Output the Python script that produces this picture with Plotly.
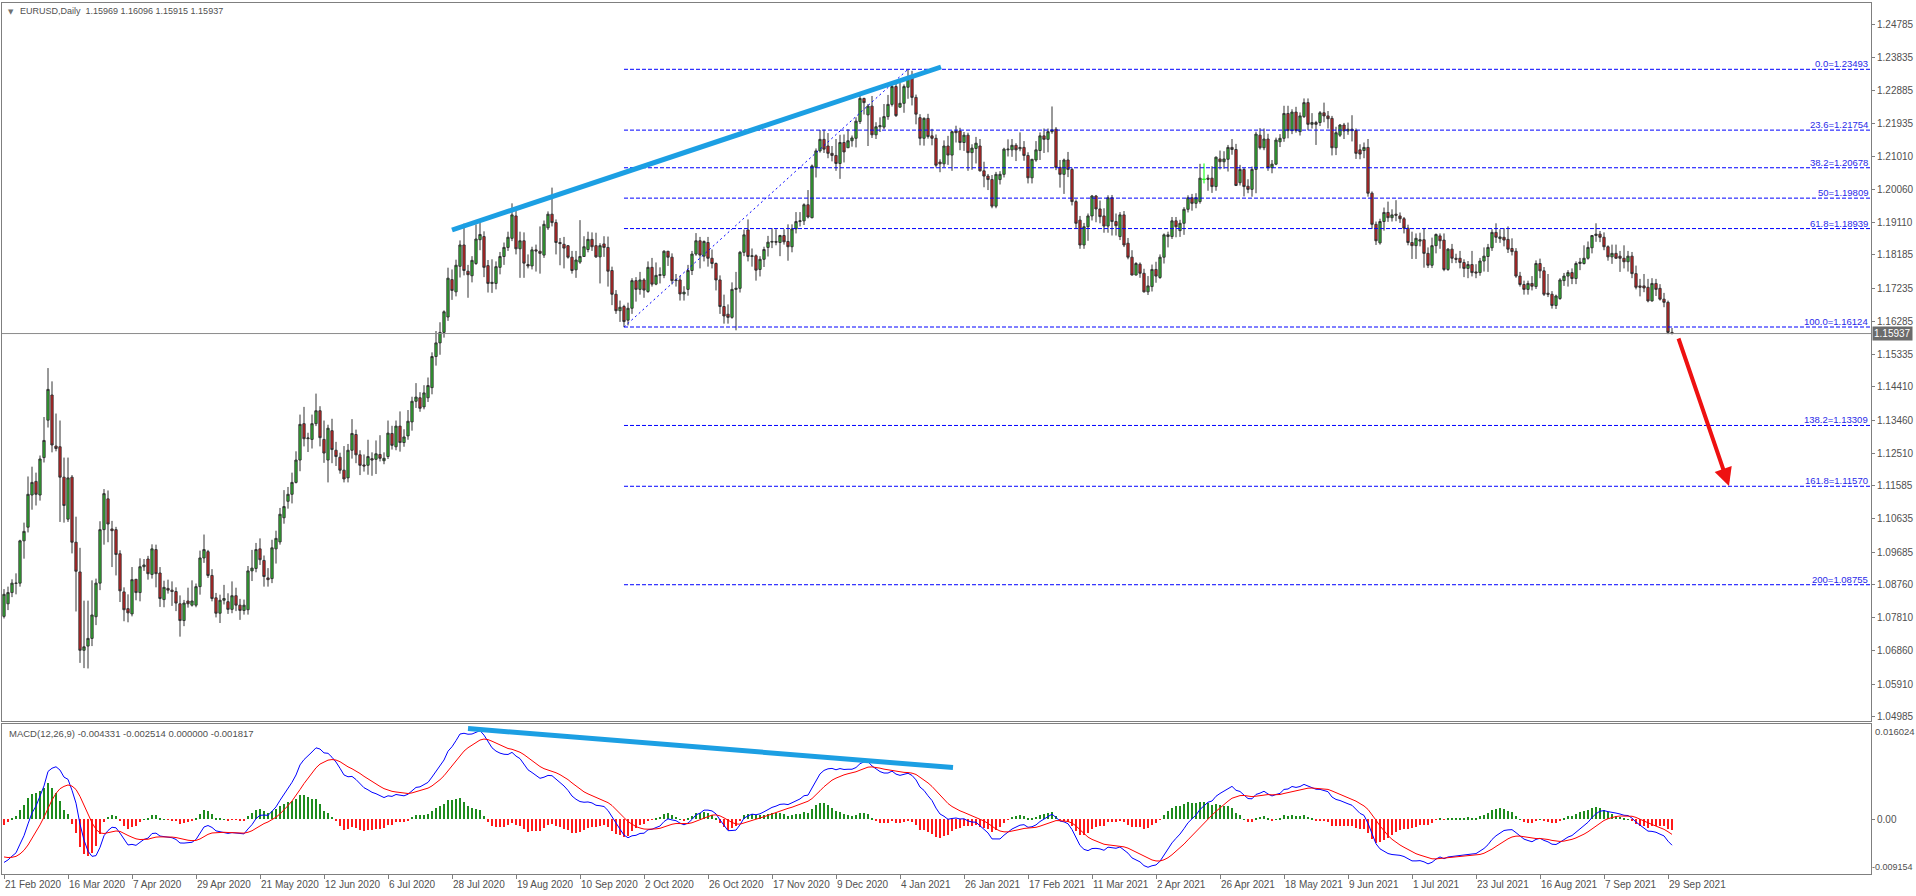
import plotly.graph_objects as go
from plotly.subplots import make_subplots

# ---------------- DATA ----------------
opens = [
1.0785,1.0821,1.0853,1.0879,1.0880,1.1001,1.1040,1.1132,1.1171,1.1132,
1.1239,1.1346,1.1418,1.1272,1.1270,1.1183,1.1063,1.1183,1.0997,1.0912,
1.0688,1.0700,1.0722,1.0784,1.0880,1.1033,1.1121,1.1035,1.1033,1.0964,
1.0855,1.0807,1.0792,1.0891,1.0853,1.0927,1.0949,1.0905,1.0976,1.0909,
1.0833,1.0865,1.0860,1.0856,1.0821,1.0773,1.0829,1.0817,1.0817,1.0870,
1.0952,1.0970,1.0902,1.0838,1.0794,1.0831,1.0827,1.0805,1.0844,1.0817,
1.0802,1.0804,1.0915,1.0922,1.0978,1.0945,1.0895,1.0893,1.0978,1.0998,
1.1067,1.1114,1.1134,1.1168,1.1232,1.1336,1.1293,1.1291,1.1336,1.1373,
1.1291,1.1232,1.1316,1.1260,1.1240,1.1203,1.1181,1.1260,1.1305,1.1247,
1.1218,1.1217,1.1236,1.1234,1.1248,1.1230,1.1242,1.1308,1.1270,1.1329,
1.1282,1.1301,1.1341,1.1400,1.1410,1.1384,1.1410,1.1439,1.1528,1.1567,
1.1597,1.1641,1.1748,1.1713,1.1786,1.1847,1.1772,1.1759,1.1794,1.1862,
1.1871,1.1788,1.1737,1.1737,1.1783,1.1814,1.1840,1.1866,1.1930,1.1836,
1.1859,1.1791,1.1787,1.1833,1.1829,1.1818,1.1896,1.1935,1.1911,1.1854,
1.1849,1.1845,1.1812,1.1776,1.1798,1.1814,1.1834,1.1863,1.1845,1.1813,
1.1850,1.1840,1.1774,1.1706,1.1659,1.1671,1.1632,1.1666,1.1745,1.1720,
1.1747,1.1714,1.1783,1.1735,1.1760,1.1760,1.1829,1.1812,1.1745,1.1747,
1.1707,1.1720,1.1774,1.1821,1.1859,1.1815,1.1854,1.1809,1.1794,1.1747,
1.1671,1.1649,1.1640,1.1720,1.1723,1.1826,1.1890,1.1814,1.1816,1.1777,
1.1806,1.1840,1.1855,1.1857,1.1854,1.1874,1.1857,1.1842,1.1893,1.1914,
1.1916,1.1962,1.1925,1.2069,1.2116,1.2149,1.2130,1.2109,1.2103,1.2080,
1.2140,1.2125,1.2145,1.2152,1.2200,1.2266,1.2219,1.2244,1.2162,1.2185,
1.2184,1.2214,1.2249,1.2300,1.2241,1.2252,1.2298,1.2330,1.2269,1.2211,
1.2152,1.2209,1.2159,1.2152,1.2084,1.2079,1.2130,1.2104,1.2173,1.2173,
1.2140,1.2161,1.2111,1.2123,1.2130,1.2059,1.2044,1.2034,1.1958,1.2034,
1.2049,1.2119,1.2119,1.2132,1.2122,1.2126,1.2103,1.2039,1.2090,1.2117,
1.2159,1.2149,1.2171,1.2178,1.2069,1.2049,1.2090,1.2063,1.1971,1.1918,
1.1847,1.1899,1.1930,1.1987,1.1950,1.1930,1.1901,1.1982,1.1914,1.1871,
1.1933,1.1852,1.1812,1.1761,1.1792,1.1766,1.1713,1.1728,1.1777,1.1754,
1.1812,1.1871,1.1871,1.1916,1.1888,1.1909,1.1949,1.1982,1.1966,1.1971,
1.2035,1.2038,1.2038,1.2014,1.2093,1.2085,1.2092,1.2126,1.2120,1.2025,
1.2063,1.2015,1.2006,1.2063,1.2161,1.2125,1.2150,1.2068,1.2078,1.2142,
1.2152,1.2223,1.2174,1.2227,1.2171,1.2214,1.2254,1.2192,1.2197,1.2197,
1.2225,1.2216,1.2209,1.2125,1.2161,1.2190,1.2173,1.2178,1.2174,1.2119,
1.2117,1.2126,1.1995,1.1906,1.1853,1.1914,1.1940,1.1925,1.1935,1.1930,
1.1922,1.1895,1.1854,1.1845,1.1858,1.1862,1.1823,1.1789,1.1845,1.1873,
1.1861,1.1777,1.1835,1.1809,1.1809,1.1797,1.1780,1.1791,1.1770,1.1768,
1.1801,1.1814,1.1839,1.1883,1.1865,1.1869,1.1863,1.1837,1.1829,1.1758,
1.1734,1.1720,1.1737,1.1728,1.1794,1.1773,1.1709,1.1706,1.1674,1.1694,
1.1745,1.1758,1.1768,1.1751,1.1794,1.1794,1.1809,1.1839,1.1874,1.1878,
1.1869,1.1842,1.1813,1.1823,1.1815,1.1809,1.1799,1.1815,1.1765,1.1730,
1.1730,1.1726,1.1687,1.1737,1.1723,1.1692,1.1683,1.15969]

highs = [
1.0863,1.0870,1.0891,1.0908,1.1004,1.1053,1.1185,1.1213,1.1196,1.1245,
1.1355,1.1495,1.1457,1.1365,1.1345,1.1239,1.1239,1.1189,1.1070,1.0981,
1.0830,1.0830,1.0888,1.0893,1.1057,1.1149,1.1145,1.1058,1.1041,1.0974,
1.0868,1.0848,1.0926,1.0892,1.0951,1.0949,1.0958,1.0991,1.0990,1.0926,
1.0887,1.0890,1.0885,1.0868,1.0845,1.0832,1.0867,1.0888,1.0879,1.0973,
1.1019,1.0975,1.0920,1.0852,1.0847,1.0875,1.0851,1.0885,1.0867,1.0835,
1.0833,1.0929,1.0975,1.0995,1.1008,1.0959,1.0923,1.1004,1.1030,1.1095,
1.1146,1.1155,1.1196,1.1257,1.1362,1.1384,1.1310,1.1362,1.1422,1.1386,
1.1345,1.1333,1.1350,1.1284,1.1253,1.1272,1.1278,1.1349,1.1319,1.1260,
1.1248,1.1290,1.1254,1.1288,1.1303,1.1254,1.1345,1.1330,1.1345,1.1371,
1.1320,1.1375,1.1413,1.1452,1.1426,1.1446,1.1468,1.1540,1.1601,1.1626,
1.1660,1.1782,1.1777,1.1805,1.1860,1.1908,1.1790,1.1815,1.1906,1.1916,
1.1886,1.1804,1.1806,1.1800,1.1827,1.1854,1.1885,1.1966,1.1950,1.1885,
1.1883,1.1820,1.1842,1.1848,1.1900,1.1917,1.1943,1.2011,1.1920,1.1867,
1.1870,1.1847,1.1830,1.1830,1.1918,1.1872,1.1885,1.1883,1.1882,1.1852,
1.1872,1.1871,1.1785,1.1718,1.1688,1.1676,1.1682,1.1752,1.1755,1.1770,
1.1752,1.1800,1.1810,1.1797,1.1783,1.1832,1.1830,1.1823,1.1764,1.1759,
1.1729,1.1790,1.1830,1.1881,1.1870,1.1860,1.1870,1.1834,1.1797,1.1760,
1.1705,1.1677,1.1740,1.1770,1.1830,1.1891,1.1920,1.1837,1.1820,1.1815,
1.1842,1.1873,1.1895,1.1892,1.1876,1.1892,1.1906,1.1906,1.1941,1.1941,
1.1966,1.2004,1.2077,1.2123,1.2176,1.2177,1.2167,1.2130,1.2150,1.2162,
1.2163,1.2178,1.2160,1.2212,1.2273,1.2268,1.2250,1.2273,1.2198,1.2212,
1.2250,1.2276,1.2311,1.2310,1.2310,1.2306,1.2349,1.2345,1.2277,1.2221,
1.2212,1.2222,1.2179,1.2163,1.2092,1.2146,1.2159,1.2174,1.2188,1.2182,
1.2170,1.2168,1.2135,1.2156,1.2150,1.2085,1.2050,1.2047,1.2056,1.2058,
1.2125,1.2149,1.2150,1.2138,1.2169,1.2144,1.2112,1.2093,1.2144,1.2169,
1.2180,1.2180,1.2243,1.2184,1.2090,1.2094,1.2113,1.2068,1.1977,1.1930,
1.1910,1.1937,1.1990,1.1990,1.1974,1.1952,1.1989,1.1990,1.1937,1.1941,
1.1944,1.1867,1.1832,1.1798,1.1797,1.1779,1.1758,1.1791,1.1799,1.1820,
1.1880,1.1885,1.1927,1.1927,1.1919,1.1955,1.1989,1.1993,1.1995,1.2079,
1.2080,1.2048,1.2072,1.2100,1.2117,1.2115,1.2133,1.2150,1.2136,1.2076,
1.2067,1.2035,1.2071,1.2171,1.2181,1.2180,1.2165,1.2090,1.2154,1.2164,
1.2245,1.2245,1.2235,1.2242,1.2226,1.2266,1.2266,1.2224,1.2202,1.2230,
1.2254,1.2230,1.2216,1.2185,1.2193,1.2196,1.2197,1.2218,1.2180,1.2135,
1.2140,1.2150,1.2000,1.1914,1.1922,1.1954,1.1971,1.1949,1.1975,1.1940,
1.1927,1.1905,1.1885,1.1880,1.1882,1.1895,1.1840,1.1868,1.1880,1.1880,
1.1880,1.1838,1.1850,1.1822,1.1830,1.1806,1.1801,1.1830,1.1792,1.1810,
1.1840,1.1850,1.1892,1.1909,1.1892,1.1895,1.1900,1.1866,1.1838,1.1770,
1.1745,1.1745,1.1758,1.1803,1.1808,1.1784,1.1764,1.1715,1.1705,1.1752,
1.1767,1.1775,1.1780,1.1800,1.1810,1.1846,1.1857,1.1875,1.1909,1.1887,
1.1883,1.1846,1.1848,1.1848,1.1830,1.1846,1.1830,1.1827,1.1788,1.1750,
1.1764,1.1750,1.1752,1.1750,1.1735,1.1710,1.1688,1.16096]

lows = [
1.0779,1.0803,1.0840,1.0848,1.0870,1.0950,1.1025,1.1090,1.1102,1.1116,
1.1225,1.1325,1.1254,1.1257,1.1055,1.1053,1.1055,1.0965,1.0799,1.0652,
1.0637,1.0636,1.0700,1.0760,1.0860,1.0990,1.0997,1.0926,1.0902,1.0826,
1.0771,1.0768,1.0785,1.0831,1.0828,1.0915,1.0890,1.0893,1.0868,1.0812,
1.0811,1.0850,1.0815,1.0800,1.0727,1.0757,1.0810,1.0813,1.0811,1.0847,
1.0938,1.0895,1.0828,1.0782,1.0766,1.0819,1.0792,1.0794,1.0800,1.0775,
1.0790,1.0790,1.0886,1.0911,1.0932,1.0870,1.0870,1.0880,1.0936,1.0990,
1.1050,1.1093,1.1108,1.1165,1.1200,1.1271,1.1255,1.1265,1.1329,1.1271,
1.1224,1.1168,1.1223,1.1215,1.1193,1.1168,1.1168,1.1236,1.1223,1.1189,
1.1199,1.1190,1.1187,1.1192,1.1228,1.1220,1.1235,1.1262,1.1260,1.1256,
1.1270,1.1290,1.1316,1.1381,1.1370,1.1377,1.1398,1.1420,1.1502,1.1533,
1.1582,1.1630,1.1690,1.1700,1.1754,1.1760,1.1696,1.1740,1.1790,1.1832,
1.1755,1.1711,1.1710,1.1720,1.1763,1.1790,1.1830,1.1858,1.1820,1.1753,
1.1753,1.1780,1.1777,1.1771,1.1765,1.1810,1.1890,1.1900,1.1820,1.1789,
1.1780,1.1808,1.1765,1.1753,1.1793,1.1813,1.1826,1.1830,1.1810,1.1737,
1.1813,1.1728,1.1675,1.1650,1.1627,1.1612,1.1617,1.1650,1.1685,1.1705,
1.1696,1.1710,1.1728,1.1732,1.1737,1.1752,1.1787,1.1734,1.1728,1.1688,
1.1688,1.1702,1.1761,1.1816,1.1780,1.1800,1.1785,1.1780,1.1717,1.1650,
1.1622,1.1622,1.1636,1.1603,1.1711,1.1815,1.1800,1.1785,1.1745,1.1757,
1.1784,1.1814,1.1838,1.1846,1.1815,1.1848,1.1802,1.1826,1.1880,1.1900,
1.1904,1.1923,1.1923,1.2040,1.2111,1.2110,1.2095,1.2086,1.2059,1.2036,
1.2083,1.2125,1.2128,1.2126,1.2193,1.2220,1.2130,1.2153,1.2150,1.2170,
1.2178,1.2205,1.2243,1.2213,1.2240,1.2225,1.2265,1.2246,1.2192,1.2132,
1.2131,1.2151,1.2132,1.2069,1.2055,1.2070,1.2076,1.2059,1.2140,1.2118,
1.2116,1.2059,1.2062,1.2080,1.2057,1.2012,1.2004,1.1952,1.1952,1.2020,
1.2040,1.2100,1.2099,1.2087,1.2115,1.2088,1.2023,1.2023,1.2085,1.2090,
1.2110,1.2112,1.2165,1.2061,1.2011,1.1993,1.2041,1.1960,1.1894,1.1836,
1.1836,1.1859,1.1917,1.1912,1.1909,1.1882,1.1882,1.1874,1.1874,1.1861,
1.1841,1.1806,1.1760,1.1760,1.1753,1.1711,1.1704,1.1714,1.1739,1.1750,
1.1794,1.1840,1.1864,1.1869,1.1870,1.1876,1.1940,1.1945,1.1952,1.1965,
1.2023,1.2002,1.1996,1.2002,1.2063,1.2065,1.2057,1.2105,1.2016,1.2017,
1.1986,1.1995,1.1985,1.1995,1.2120,1.2118,1.2059,1.2052,1.2075,1.2127,
1.2142,1.2152,1.2164,1.2168,1.2160,1.2210,1.2175,1.2180,1.2133,1.2187,
1.2198,1.2180,1.2103,1.2104,1.2156,1.2150,1.2162,1.2143,1.2093,1.2092,
1.2095,1.1985,1.1893,1.1847,1.1848,1.1888,1.1913,1.1914,1.1915,1.1910,
1.1880,1.1846,1.1807,1.1807,1.1843,1.1782,1.1781,1.1781,1.1823,1.1836,
1.1772,1.1773,1.1795,1.1795,1.1780,1.1755,1.1752,1.1757,1.1752,1.1759,
1.1771,1.1770,1.1830,1.1853,1.1853,1.1843,1.1824,1.1817,1.1753,1.1728,
1.1705,1.1705,1.1717,1.1721,1.1752,1.1701,1.1698,1.1665,1.1664,1.1690,
1.1730,1.1728,1.1735,1.1735,1.1775,1.1791,1.1805,1.1823,1.1856,1.1855,
1.1832,1.1802,1.1793,1.1808,1.1770,1.1780,1.1771,1.1752,1.1720,1.1700,
1.1712,1.1683,1.1685,1.1701,1.1688,1.1669,1.1592,1.15915]

closes = [
1.0848,1.0853,1.0880,1.0880,1.1001,1.1028,1.1134,1.1168,1.1134,1.1235,
1.1288,1.1434,1.1275,1.1265,1.1183,1.1102,1.1181,1.0997,1.0914,1.0688,
1.0698,1.0722,1.0789,1.0880,1.1033,1.1136,1.1049,1.1030,1.0962,1.0858,
1.0804,1.0795,1.0890,1.0853,1.0927,1.0932,1.0907,1.0978,1.0907,1.0836,
1.0868,1.0860,1.0856,1.0823,1.0773,1.0823,1.0821,1.0829,1.0870,1.0952,
1.0976,1.0902,1.0836,1.0794,1.0831,1.0836,1.0805,1.0844,1.0817,1.0802,
1.0817,1.0915,1.0923,1.0976,1.0947,1.0899,1.0890,1.0981,1.1008,1.1077,
1.1099,1.1134,1.1168,1.1232,1.1334,1.1293,1.1295,1.1336,1.1373,1.1296,
1.1252,1.1323,1.1262,1.1242,1.1203,1.1178,1.1260,1.1308,1.1247,1.1217,
1.1215,1.1242,1.1232,1.1250,1.1237,1.1237,1.1309,1.1274,1.1329,1.1282,
1.1298,1.1343,1.1400,1.1412,1.1380,1.1424,1.1445,1.1528,1.1567,1.1597,
1.1656,1.1752,1.1717,1.1789,1.1847,1.1774,1.1762,1.1803,1.1864,1.1877,
1.1783,1.1737,1.1740,1.1785,1.1814,1.1840,1.1869,1.1933,1.1836,1.1859,
1.1795,1.1787,1.1833,1.1830,1.1823,1.1906,1.1935,1.1911,1.1854,1.1851,
1.1838,1.1812,1.1774,1.1804,1.1814,1.1842,1.1863,1.1842,1.1813,1.1845,
1.1840,1.1772,1.1706,1.1659,1.1669,1.1628,1.1666,1.1745,1.1720,1.1747,
1.1718,1.1783,1.1735,1.1760,1.1762,1.1829,1.1812,1.1745,1.1747,1.1707,
1.1712,1.1774,1.1821,1.1859,1.1818,1.1857,1.1809,1.1794,1.1747,1.1671,
1.1644,1.1640,1.1720,1.1723,1.1826,1.1876,1.1814,1.1816,1.1775,1.1806,
1.1834,1.1855,1.1857,1.1855,1.1874,1.1856,1.1842,1.1893,1.1914,1.1916,
1.1962,1.1927,1.2073,1.2116,1.2149,1.2121,1.2109,1.2103,1.2080,1.2140,
1.2113,1.2145,1.2153,1.2201,1.2266,1.2254,1.2244,1.2162,1.2185,1.2188,
1.2214,1.2249,1.2300,1.2217,1.2252,1.2300,1.2323,1.2269,1.2221,1.2152,
1.2209,1.2157,1.2152,1.2075,1.2079,1.2130,1.2104,1.2171,1.2168,1.2140,
1.2161,1.2111,1.2124,1.2138,1.2059,1.2044,1.2034,1.1958,1.2049,1.2049,
1.2121,1.2121,1.2132,1.2119,1.2126,1.2103,1.2039,1.2092,1.2119,1.2159,
1.2149,1.2171,1.2176,1.2069,1.2049,1.2090,1.2063,1.1971,1.1909,1.1847,
1.1899,1.1930,1.1987,1.1950,1.1928,1.1901,1.1982,1.1914,1.1902,1.1933,
1.1847,1.1812,1.1761,1.1794,1.1766,1.1713,1.1730,1.1777,1.1758,1.1812,
1.1876,1.1876,1.1916,1.1899,1.1909,1.1949,1.1982,1.1966,1.1982,1.2038,
1.2035,1.2035,1.2014,1.2098,1.2085,1.2093,1.2126,1.2120,1.2017,1.2063,
1.2014,1.2006,1.2063,1.2164,1.2125,1.2150,1.2068,1.2078,1.2147,1.2152,
1.2223,1.2174,1.2227,1.2174,1.2216,1.2254,1.2192,1.2197,1.2192,1.2225,
1.2216,1.2208,1.2125,1.2168,1.2190,1.2173,1.2178,1.2174,1.2109,1.2107,
1.2126,1.1995,1.1906,1.1859,1.1914,1.1940,1.1925,1.1933,1.1932,1.1922,
1.1895,1.1854,1.1845,1.1866,1.1862,1.1823,1.1789,1.1845,1.1877,1.1859,
1.1777,1.1835,1.1809,1.1806,1.1797,1.1780,1.1791,1.1768,1.1767,1.1801,
1.1815,1.1840,1.1883,1.1869,1.1870,1.1861,1.1835,1.1828,1.1758,1.1734,
1.1720,1.1737,1.1729,1.1794,1.1773,1.1706,1.1706,1.1674,1.1701,1.1747,
1.1758,1.1768,1.1751,1.1794,1.1798,1.1809,1.1840,1.1874,1.1878,1.1869,
1.1842,1.1813,1.1823,1.1809,1.1809,1.1799,1.1815,1.1765,1.1726,1.1726,
1.1724,1.1687,1.1737,1.1720,1.1692,1.1683,1.1597,1.15937]

# closes before the first visible bar (Dec 2019 - 20 Feb 2020), used to warm up the MACD
closes_before = [
1.1078,1.1082,1.1077,1.1104,1.1059,1.1064,1.1092,1.1129,1.1132,1.1121,
1.1144,1.1151,1.1112,1.1121,1.1077,1.1089,1.1090,1.1101,1.1177,1.1200,
1.1213,1.1172,1.1160,1.1196,1.1152,1.1105,1.1106,1.1120,1.1134,1.1127,
1.1150,1.1135,1.1090,1.1095,1.1083,1.1093,1.1054,1.1025,1.1018,1.1020,
1.1008,1.1034,1.1093,1.1060,1.1045,1.1000,1.0981,1.0944,1.0905,1.0915,
1.0873,1.0840,1.0830,1.0838,1.0790,1.0806,1.0787]
ema_seeds = [1.1020, 1.1045, -0.0022]  # EMA12, EMA26, signal at start of warm-up

date_labels = ["21 Feb 2020", "16 Mar 2020", "7 Apr 2020", "29 Apr 2020", "21 May 2020",
               "12 Jun 2020", "6 Jul 2020", "28 Jul 2020", "19 Aug 2020", "10 Sep 2020",
               "2 Oct 2020", "26 Oct 2020", "17 Nov 2020", "9 Dec 2020", "4 Jan 2021",
               "26 Jan 2021", "17 Feb 2021", "11 Mar 2021", "2 Apr 2021", "26 Apr 2021",
               "18 May 2021", "9 Jun 2021", "1 Jul 2021", "23 Jul 2021", "16 Aug 2021",
               "7 Sep 2021", "29 Sep 2021"]
bars_per_label = 16

price_ticks = [1.24785, 1.23835, 1.22885, 1.21935, 1.21010, 1.20060, 1.19110, 1.18185,
               1.17235, 1.16285, 1.15335, 1.14410, 1.13460, 1.12510, 1.11585, 1.10635,
               1.09685, 1.08760, 1.07810, 1.06860, 1.05910, 1.04985]

fib_labels = ["0.0", "23.6", "38.2", "50", "61.8", "100.0", "138.2", "161.8", "200"]
fib_values = [1.23493, 1.21754, 1.20678, 1.19809, 1.18939, 1.16124, 1.13309, 1.11570, 1.08755]
fib_anchor_idx = [155, 226]
fib_anchor_price = [1.16124, 1.23493]

trend_idx = [112, 234.25]
trend_price = [1.18898, 1.23559]
macd_trend_idx = [116, 237.25]
macd_trend_val = [0.01526, 0.00871]
arrow_idx = [418.5, 431.25]
arrow_price = [1.15838, 1.11577]

header_main = "EURUSD,Daily  1.15969 1.16096 1.15915 1.15937"
header_macd = "MACD(12,26,9) -0.004331 -0.002514 0.000000 -0.001817"
macd_top, macd_bottom = 0.016024, -0.009154

# ---------------- MACD ----------------
def ema(vals, n, seed):
    k = 2.0 / (n + 1)
    e = seed
    out = []
    for v in vals:
        e = e + k * (v - e)
        out.append(e)
    return out

all_c = closes_before + closes
e12 = ema(all_c, 12, ema_seeds[0])
e26 = ema(all_c, 26, ema_seeds[1])
macd_all = [a - b for a, b in zip(e12, e26)]
sig_all = ema(macd_all, 9, ema_seeds[2])
n = len(closes)
macd = macd_all[-n:]
signal = sig_all[-n:]
hist = [m - s for m, s in zip(macd, signal)]

idx = list(range(n))
X_RANGE = [-0.5, 466.75]
FONT = "Liberation Sans, Arial, sans-serif"
GRAY = "#7f7f7f"
TXT = "#505050"

fig = make_subplots(rows=2, cols=1, shared_xaxes=True,
                    vertical_spacing=3 / 871, row_heights=[718, 150])

# candles
reg = [i for i in idx if opens[i] != closes[i]]
doj = [i for i in idx if opens[i] == closes[i]]
fig.add_trace(go.Candlestick(
    x=reg, open=[opens[i] for i in reg], high=[highs[i] for i in reg],
    low=[lows[i] for i in reg], close=[closes[i] for i in reg],
    increasing=dict(line=dict(color="#333333", width=1), fillcolor="#2fc12f"),
    decreasing=dict(line=dict(color="#333333", width=1), fillcolor="#d61f1f"),
    whiskerwidth=0, hoverinfo="skip", showlegend=False), row=1, col=1)
dx, dy = [], []
for i in doj:
    dx += [i - 0.5, i + 0.5, None, i, i, None]
    dy += [opens[i], opens[i], None, lows[i], highs[i], None]
fig.add_trace(go.Scatter(x=dx, y=dy, mode="lines", line=dict(color="#00ff00", width=1),
                         hoverinfo="skip", showlegend=False), row=1, col=1)

# fib levels
for lab, v in zip(fib_labels, fib_values):
    fig.add_trace(go.Scatter(x=[fib_anchor_idx[0], X_RANGE[1]], y=[v, v], mode="lines",
                             line=dict(color="#0000ff", width=1, dash="4px,2px"),
                             hoverinfo="skip", showlegend=False), row=1, col=1)
    fig.add_annotation(x=X_RANGE[1], y=v, xref="x", yref="y", text=f"{lab}={v:.5f}",
                       showarrow=False, xanchor="right", yanchor="bottom", xshift=-1, yshift=-2,
                       font=dict(family=FONT, size=9.5, color="#2a2ae8"))
fig.add_trace(go.Scatter(x=fib_anchor_idx, y=fib_anchor_price, mode="lines",
                         line=dict(color="#0000ff", width=1, dash="2px,3px"),
                         hoverinfo="skip", showlegend=False), row=1, col=1)

# current price line
fig.add_shape(type="line", xref="x domain", yref="y", x0=0, x1=1,
              y0=closes[-1], y1=closes[-1], line=dict(color="#8a8a8a", width=1))
fig.add_annotation(xref="paper", yref="y", x=1, y=closes[-1], text=f"{closes[-1]:.5f}",
                   showarrow=False, xanchor="left", xshift=1, bgcolor="#6b6b6b", borderpad=1,
                   font=dict(family=FONT, size=10, color="white"))

# trend lines
fig.add_trace(go.Scatter(x=trend_idx, y=trend_price, mode="lines",
                         line=dict(color="#1c9fe3", width=5), hoverinfo="skip",
                         showlegend=False), row=1, col=1)
fig.add_annotation(x=arrow_idx[1], y=arrow_price[1], ax=arrow_idx[0], ay=arrow_price[0],
                   xref="x", yref="y", axref="x", ayref="y", showarrow=True,
                   arrowhead=2, arrowsize=0.9, arrowwidth=4, arrowcolor="#ee1111", text="")

# MACD
pos = [i for i in idx if hist[i] >= 0]
neg = [i for i in idx if hist[i] < 0]
fig.add_trace(go.Bar(x=pos, y=[hist[i] for i in pos], width=0.3, marker=dict(color="#1e8c1e", line=dict(width=0)),
                     hoverinfo="skip", showlegend=False), row=2, col=1)
fig.add_trace(go.Bar(x=neg, y=[hist[i] for i in neg], width=0.3, marker=dict(color="#ff1a1a", line=dict(width=0)),
                     hoverinfo="skip", showlegend=False), row=2, col=1)
fig.add_trace(go.Scatter(x=idx, y=macd, mode="lines", line=dict(color="#0000ff", width=1),
                         hoverinfo="skip", showlegend=False), row=2, col=1)
fig.add_trace(go.Scatter(x=idx, y=signal, mode="lines", line=dict(color="#ff0000", width=1),
                         hoverinfo="skip", showlegend=False), row=2, col=1)
fig.add_trace(go.Scatter(x=macd_trend_idx, y=macd_trend_val, mode="lines",
                         line=dict(color="#1c9fe3", width=5), hoverinfo="skip",
                         showlegend=False), row=2, col=1)

# axes
label_idx = [k * bars_per_label for k in range(len(date_labels))]
fig.update_xaxes(range=X_RANGE, showgrid=False, zeroline=False, showline=True, mirror=True,
                 linecolor=GRAY, linewidth=1, rangeslider_visible=False)
fig.update_xaxes(showticklabels=False, ticks="", row=1, col=1)
fig.update_xaxes(tickvals=label_idx, ticktext=[""] * len(label_idx), ticks="outside",
                 ticklen=4, tickcolor=GRAY, row=2, col=1)
fig.update_yaxes(range=[1.04858, 1.25389], side="right", tickvals=price_ticks,
                 ticktext=[f"{t:.5f}" for t in price_ticks], ticks="outside", ticklen=3,
                 tickcolor=GRAY, showgrid=False, zeroline=False, showline=True, mirror=True,
                 linecolor=GRAY, tickfont=dict(family=FONT, size=10, color=TXT), row=1, col=1)
fig.update_yaxes(range=[macd_bottom, macd_top], side="right", tickvals=[0], ticktext=["0.00"],
                 ticks="outside", ticklen=3, tickcolor=GRAY, showgrid=False, zeroline=False,
                 showline=True, mirror=True, linecolor=GRAY,
                 tickfont=dict(family=FONT, size=10, color=TXT), row=2, col=1)

for k, lab in zip(label_idx, date_labels):
    fig.add_annotation(x=k, y=0, xref="x", yref="paper", text=lab, showarrow=False,
                       xanchor="left", yanchor="top", xshift=-1, yshift=-3,
                       font=dict(family=FONT, size=10, color=TXT))

fig.add_annotation(xref="paper", yref="y2", x=1, y=macd_top, text=f"{macd_top:.6f}",
                   showarrow=False, xanchor="left", yanchor="top", xshift=2,
                   font=dict(family=FONT, size=9.5, color=TXT))
fig.add_annotation(xref="paper", yref="y2", x=1, y=macd_bottom, text=f"{macd_bottom:.6f}",
                   showarrow=False, xanchor="left", yanchor="bottom", xshift=-1,
                   font=dict(family=FONT, size=9, color=TXT))

fig.add_annotation(xref="paper", yref="paper", x=0, y=1, text="▼",
                   showarrow=False, xanchor="left", yanchor="top", xshift=4, yshift=-3,
                   font=dict(family="DejaVu Sans", size=7, color="#707070"))
fig.add_annotation(xref="paper", yref="paper", x=0, y=1, text=header_main,
                   showarrow=False, xanchor="left", yanchor="top", xshift=16, yshift=-1,
                   font=dict(family=FONT, size=9, color=TXT))
fig.add_annotation(xref="paper", yref="paper", x=0, y=150 / 871, text=header_macd,
                   showarrow=False, xanchor="left", yanchor="top", xshift=5, yshift=-2,
                   font=dict(family=FONT, size=9.5, color=TXT))

fig.update_layout(width=1916, height=896, margin=dict(l=2, r=45, t=3, b=22),
                  paper_bgcolor="white", plot_bgcolor="white", showlegend=False,
                  boxgap=0.2, bargap=0, hovermode=False, dragmode=False)

fig.write_html("out.html", config={"displayModeBar": False},
               post_script="document.body.style.margin='0';document.body.style.overflow='hidden';")
